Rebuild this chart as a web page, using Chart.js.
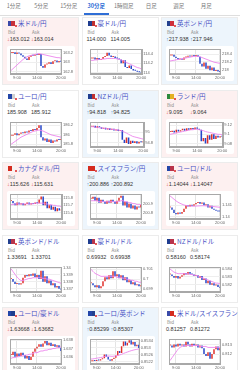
<!DOCTYPE html>
<html>
<head>
<meta charset="utf-8">
<script src="https://cdn.jsdelivr.net/npm/chart.js@4.4.1/dist/chart.umd.min.js"></script>
<style>
body{margin:0;width:240px;height:370px;overflow:hidden;background:#fff;position:relative;
  font-family:"Noto Sans CJK JP","Noto Sans",sans-serif}
.tabs{position:absolute;left:0;top:0;width:240px;height:15px;border-bottom:1px solid #dedede}
.tab{position:absolute;top:2px;width:27.5px;text-align:center;font-size:5.5px;color:#777;line-height:8px}
.tab.on{color:#2f6ed6;font-weight:bold}
.tab.on:after{content:'';position:absolute;left:1px;right:1px;top:11px;height:1.5px;background:#2f6ed6}
.card{position:absolute;width:77px;height:68px;box-sizing:border-box;border:1px solid #ececec}
.card.down{background:#fdf0f0}
.card.up{background:#edf5fc}
.card.flat{background:#fff}
.flag{position:absolute;left:5px;top:3px;width:7px;height:5px}
.flag:after{content:'';position:absolute;right:-2px;bottom:-1px;width:2px;height:2px;border-radius:1px;background:#d22}
.title{position:absolute;left:15px;top:0px;font-size:6.5px;line-height:10px;color:#4650c4;white-space:nowrap}
.lab{position:absolute;top:11px;font-size:4.5px;line-height:6px;color:#888}
.val{position:absolute;top:18px;font-size:5.5px;line-height:7px;color:#333;white-space:nowrap;font-family:"Liberation Sans",sans-serif}
.val b{font-weight:normal}
.val .dn{color:#e03a3a}
.val .up{color:#2f7fd0}
.box{position:absolute;left:4px;top:28px;width:68px;height:35px;background:#fff;border-radius:2px}
.box canvas{position:absolute;left:0;top:0}
</style>
</head>
<body>
<div class="tabs" id="tabs"></div>
<div id="grid"></div>
<script>
// tabs
const tabLabels = ['1分足', '5分足', '15分足', '30分足', '1時間足', '日足', '週足', '月足'];
const activeTab = 3;

// currency pairs, quotes, direction
const pairs = ['米ドル/円', '豪ドル/円', '英ポンド/円', 'ユーロ/円', 'NZドル/円', 'ランド/円',
  'カナダドル/円', 'スイスフラン/円', 'ユーロ/ドル', '英ポンド/ドル', '豪ドル/ドル', 'NZドル/ドル',
  'ユーロ/豪ドル', 'ユーロ/英ポンド', '米ドル/スイスフラン'];
const bids = ['163.012', '114.000', '217.938', '185.908', '94.818', '9.095',
  '115.626', '200.886', '1.14044', '1.33691', '0.69932', '0.58160',
  '1.63668', '0.85299', '0.81257'];
const asks = ['163.014', '114.005', '217.946', '185.912', '94.825', '9.064',
  '115.631', '200.892', '1.14047', '1.33701', '0.69938', '0.58174',
  '1.63682', '0.85307', '0.81272'];
const moves = ['down', 'flat', 'up', 'flat', 'up', 'down',
  'down', 'up', 'down', 'flat', 'flat', 'flat',
  'down', 'up', 'flat'];

// x axis: 30-minute bars
const times = ['7:30', '8:00', '8:30', '9:00', '9:30', '10:00', '10:30', '11:00', '11:30', '12:00',
  '12:30', '13:00', '13:30', '14:00', '14:30', '15:00', '15:30', '16:00', '16:30', '17:00',
  '17:30', '18:00', '18:30', '19:00', '19:30', '20:00'];
const timeTicks = ['9:00', '14:00', '20:00'];

// closing prices and moving averages
const usdJpy = [163.20,163.22,163.18,163.21,163.19,163.15,163.12,163.08,163.05,163.12,163.15,163.14,163.17,163.16,163.18,162.92,162.88,162.95,162.97,163.00,162.96,163.02,163.04,163.00,163.03,163.01];
const usdJpyMa = [162.82,162.86,162.90,162.94,162.98,163.02,163.06,163.09,163.12,163.14,163.15,163.16,163.17,163.18,163.19,163.18,163.17,163.16,163.15,163.14,163.13,163.12,163.11,163.10,163.10,163.09];
const audJpy = [114.30,114.32,114.28,114.31,114.27,114.29,114.33,114.35,114.42,114.36,114.33,114.34,114.31,114.30,114.28,114.20,114.26,114.12,114.10,114.15,114.08,114.05,114.04,114.02,114.01,114.00];
const audJpyMa = [114.26,114.26,114.27,114.27,114.28,114.28,114.29,114.29,114.30,114.30,114.30,114.30,114.30,114.29,114.28,114.27,114.25,114.23,114.21,114.19,114.17,114.15,114.13,114.11,114.10,114.08];
const gbpJpy = [218.36,218.38,218.33,218.30,218.26,218.27,218.25,218.31,218.33,218.35,218.34,218.36,218.35,218.37,218.33,218.15,218.08,218.18,218.02,218.10,217.98,218.05,217.96,217.99,217.95,217.94];
const gbpJpyMa = [218.22,218.23,218.24,218.25,218.26,218.27,218.28,218.29,218.30,218.31,218.32,218.33,218.34,218.34,218.34,218.33,218.31,218.29,218.27,218.25,218.23,218.21,218.19,218.18,218.17,218.16];
const eurJpy = [185.98,186.00,186.03,185.99,186.02,186.05,186.03,186.07,186.05,186.09,186.08,186.12,186.10,186.14,186.20,185.95,185.88,185.92,185.85,185.90,185.83,185.88,185.86,185.90,185.89,185.91];
const eurJpyMa = [185.80,185.83,185.86,185.89,185.92,185.95,185.97,185.99,186.01,186.03,186.05,186.07,186.08,186.09,186.10,186.09,186.08,186.06,186.04,186.02,186.00,185.99,185.98,185.97,185.96,185.95];
const nzdJpy = [95.10,95.12,95.08,95.11,95.09,95.06,95.08,95.05,95.07,95.04,95.06,95.03,95.05,95.02,95.04,94.86,94.80,94.90,94.78,94.84,94.80,94.83,94.79,94.82,94.81,94.82];
const nzdJpyMa = [95.10,95.10,95.09,95.09,95.08,95.08,95.07,95.07,95.06,95.06,95.05,95.05,95.04,95.04,95.03,95.02,95.00,94.98,94.96,94.94,94.92,94.91,94.90,94.89,94.88,94.87];
const zarJpy = [9.105,9.108,9.104,9.110,9.106,9.109,9.112,9.108,9.113,9.110,9.114,9.111,9.115,9.112,9.110,9.085,9.092,9.080,9.098,9.088,9.100,9.090,9.097,9.093,9.096,9.095];
const zarJpyMa = [9.100,9.101,9.102,9.103,9.104,9.105,9.106,9.107,9.108,9.109,9.110,9.110,9.111,9.111,9.110,9.109,9.108,9.106,9.105,9.104,9.103,9.102,9.101,9.100,9.100,9.099];
const cadJpy = [115.76,115.73,115.70,115.74,115.71,115.73,115.70,115.72,115.74,115.71,115.73,115.72,115.74,115.73,115.78,115.82,115.70,115.75,115.66,115.70,115.64,115.68,115.62,115.66,115.63,115.63];
const cadJpyMa = [115.71,115.71,115.72,115.72,115.72,115.72,115.72,115.72,115.72,115.72,115.72,115.72,115.73,115.73,115.73,115.73,115.73,115.72,115.72,115.71,115.71,115.70,115.70,115.69,115.69,115.68];
const chfJpy = [200.95,200.97,200.93,200.96,200.91,200.94,200.92,200.90,200.93,200.91,200.94,200.92,200.90,200.93,200.96,200.98,200.88,200.92,200.86,200.90,200.85,200.88,200.84,200.87,200.86,200.89];
const chfJpyMa = [200.93,200.93,200.93,200.93,200.92,200.92,200.92,200.92,200.92,200.92,200.92,200.92,200.92,200.92,200.92,200.93,200.93,200.92,200.92,200.91,200.91,200.90,200.90,200.89,200.89,200.89];
const eurUsd = [1.14080,1.14060,1.14030,1.14020,1.14035,1.14025,1.14040,1.14070,1.14100,1.14090,1.14105,1.14095,1.14110,1.14120,1.14130,1.14115,1.14125,1.14100,1.14110,1.14080,1.14095,1.14070,1.14060,1.14050,1.14045,1.14044];
const eurUsdMa = [1.14185,1.14170,1.14155,1.14140,1.14128,1.14118,1.14110,1.14103,1.14098,1.14095,1.14093,1.14092,1.14092,1.14093,1.14094,1.14095,1.14096,1.14096,1.14095,1.14094,1.14092,1.14090,1.14088,1.14086,1.14084,1.14082];
const gbpUsd = [1.3384,1.3380,1.3377,1.3378,1.3376,1.3378,1.3386,1.3390,1.3388,1.3391,1.3389,1.3392,1.3387,1.3390,1.3384,1.3396,1.3380,1.3388,1.3378,1.3382,1.3375,1.3378,1.3372,1.3374,1.3370,1.3369];
const gbpUsdMa = [1.3399,1.3395,1.3391,1.3387,1.3384,1.3382,1.3382,1.3383,1.3384,1.3385,1.3385,1.3386,1.3386,1.3386,1.3386,1.3386,1.3385,1.3385,1.3384,1.3384,1.3383,1.3382,1.3381,1.3380,1.3379,1.3378];
const audUsd = [0.6996,0.6994,0.6992,0.6994,0.6991,0.6993,0.6998,0.7002,0.7000,0.7004,0.7001,0.7008,0.7003,0.7005,0.7001,0.7004,0.6999,0.7002,0.6997,0.6999,0.6995,0.6997,0.6994,0.6995,0.6993,0.6993];
const audUsdMa = [0.7010,0.7008,0.7006,0.7005,0.7004,0.7003,0.7003,0.7003,0.7003,0.7003,0.7003,0.7003,0.7003,0.7002,0.7002,0.7002,0.7001,0.7001,0.7000,0.7000,0.6999,0.6999,0.6998,0.6998,0.6997,0.6997];
const nzdUsd = [0.5833,0.5831,0.5829,0.5831,0.5828,0.5830,0.5832,0.5835,0.5833,0.5836,0.5834,0.5833,0.5831,0.5832,0.5829,0.5831,0.5826,0.5828,0.5822,0.5825,0.5820,0.5822,0.5819,0.5820,0.5817,0.5816];
const nzdUsdMa = [0.5840,0.5838,0.5836,0.5835,0.5834,0.5834,0.5834,0.5834,0.5834,0.5834,0.5833,0.5833,0.5832,0.5832,0.5831,0.5830,0.5829,0.5828,0.5827,0.5826,0.5825,0.5824,0.5823,0.5822,0.5822,0.5821];
const eurAud = [1.6362,1.6366,1.6360,1.6364,1.6361,1.6365,1.6362,1.6358,1.6361,1.6356,1.6360,1.6366,1.6370,1.6372,1.6375,1.6372,1.6376,1.6379,1.6374,1.6377,1.6373,1.6375,1.6372,1.6374,1.6371,1.6367];
const eurAudMa = [1.6358,1.6359,1.6359,1.6360,1.6360,1.6361,1.6361,1.6362,1.6362,1.6363,1.6363,1.6364,1.6365,1.6365,1.6366,1.6367,1.6367,1.6368,1.6368,1.6369,1.6369,1.6370,1.6370,1.6371,1.6371,1.6372];
const eurGbp = [0.85222,0.85228,0.85224,0.85230,0.85226,0.85234,0.85240,0.85262,0.85248,0.85232,0.85225,0.85236,0.85242,0.85256,0.85282,0.85270,0.85310,0.85338,0.85315,0.85330,0.85345,0.85320,0.85335,0.85310,0.85318,0.85300];
const eurGbpMa = [0.85235,0.85236,0.85238,0.85240,0.85242,0.85244,0.85246,0.85250,0.85252,0.85253,0.85252,0.85251,0.85252,0.85254,0.85256,0.85259,0.85263,0.85268,0.85272,0.85276,0.85280,0.85284,0.85287,0.85290,0.85292,0.85294];
const usdChf = [0.8129,0.8127,0.8130,0.8128,0.8131,0.8129,0.8130,0.8128,0.8133,0.8130,0.8128,0.8131,0.8129,0.8130,0.8127,0.8129,0.8126,0.8120,0.8118,0.8122,0.8115,0.8120,0.8125,0.8128,0.8124,0.8126];
const usdChfMa = [0.8113,0.8116,0.8119,0.8122,0.8125,0.8127,0.8128,0.8129,0.8129,0.8129,0.8129,0.8129,0.8129,0.8129,0.8129,0.8128,0.8128,0.8128,0.8128,0.8127,0.8127,0.8127,0.8127,0.8127,0.8127,0.8127];

// y axis ranges and tick labels
const yMins = [162.74, 113.97, 217.88, 185.74, 94.72, 9.072, 115.51, 200.74, 1.13975, 1.3365, 0.6987, 0.58105, 1.6351, 0.85205, 0.81092];
const yMaxs = [163.28, 114.49, 218.52, 186.26, 95.18, 9.126, 115.85, 200.995, 1.14198, 1.3401, 0.7012, 0.5842, 1.6381, 0.8535, 0.81355];
const yTicks = [
  [162.8, 163, 163.2], [114, 114.2, 114.4], [218, 218.2, 218.4],
  [185.8, 186, 186.2], [94.8, 95], [9.08, 9.1, 9.12],
  [115.6, 115.7, 115.8], [200.8, 200.9], [1.14, 1.141],
  [1.337, 1.338, 1.339, 1.34], [0.699, 0.7, 0.701], [0.582, 0.583, 0.584],
  [1.636, 1.637, 1.638], [0.8522, 0.8526, 0.853, 0.8534], [0.812, 0.813]
];

const closes = [usdJpy, audJpy, gbpJpy, eurJpy, nzdJpy, zarJpy, cadJpy, chfJpy, eurUsd, gbpUsd, audUsd, nzdUsd, eurAud, eurGbp, usdChf];
const averages = [usdJpyMa, audJpyMa, gbpJpyMa, eurJpyMa, nzdJpyMa, zarJpyMa, cadJpyMa, chfJpyMa, eurUsdMa, gbpUsdMa, audUsdMa, nzdUsdMa, eurAudMa, eurGbpMa, usdChfMa];

const flags = [
  'linear-gradient(90deg,#3a4aa8 50%,#c8303a 50%)', 'linear-gradient(90deg,#1f3d8f 55%,#c03030 55%)',
  'linear-gradient(90deg,#23408e 50%,#cf2d3a 50%)', 'linear-gradient(90deg,#2346a8 55%,#d0d0d0 55%)',
  'linear-gradient(90deg,#1f3d8f 55%,#c03030 55%)', 'linear-gradient(90deg,#2d8a3c 50%,#e4b020 50%)',
  'linear-gradient(90deg,#d52b1e 55%,#f4f4f4 55%)', 'linear-gradient(90deg,#d52b1e 100%,#fff 0)',
  'linear-gradient(90deg,#2346a8 50%,#b8344a 50%)', 'linear-gradient(90deg,#23408e 50%,#b8344a 50%)',
  'linear-gradient(90deg,#1f3d8f 50%,#b8344a 50%)', 'linear-gradient(90deg,#1f3d8f 50%,#b8344a 50%)',
  'linear-gradient(90deg,#2346a8 50%,#1f3d8f 50%)', 'linear-gradient(90deg,#2346a8 50%,#23408e 50%)',
  'linear-gradient(90deg,#3a4aa8 50%,#d52b1e 50%)'
];

Chart.defaults.font.family = '"Liberation Sans", sans-serif';

const tabs = document.getElementById('tabs');
tabLabels.forEach((t, i) => {
  const d = document.createElement('div');
  d.className = 'tab' + (i === activeTab ? ' on' : '');
  d.style.left = (i * 27.5) + 'px';
  d.textContent = t;
  tabs.appendChild(d);
});

const colX = [2, 81.5, 161];
const rowY = [17, 89.5, 162, 234.5, 307];

const plotBorder = {
  id: 'plotBorder',
  afterDraw(chart) {
    const { ctx, chartArea: a } = chart;
    ctx.save();
    ctx.strokeStyle = '#a8a8a8';
    ctx.lineWidth = 1;
    ctx.strokeRect(Math.round(a.left) + 0.5, Math.round(a.top) + 0.5, Math.round(a.width) - 1, Math.round(a.height) - 1);
    ctx.restore();
  }
};

const arrow = m => m === 'down' ? '<span class="dn">↓</span>' : m === 'up' ? '<span class="up">↑</span>' : '';

const grid = document.getElementById('grid');
pairs.forEach((name, i) => {
  const card = document.createElement('div');
  card.className = 'card ' + moves[i];
  card.style.left = colX[i % 3] + 'px';
  card.style.top = rowY[Math.floor(i / 3)] + 'px';
  card.innerHTML =
    '<span class="flag" style="background:' + flags[i] + '"></span>' +
    '<div class="title">' + name + '</div>' +
    '<div class="lab" style="left:5px">Bid</div><div class="lab" style="left:29px">Ask</div>' +
    '<div class="val" style="left:4px">' + arrow(moves[i]) + bids[i] + '</div>' +
    '<div class="val" style="left:28px">' + arrow(moves[i]) + asks[i] + '</div>' +
    '<div class="box"><canvas width="68" height="35"></canvas></div>';
  grid.appendChild(card);

  const c = closes[i];
  const candles = c.map((v, k) => [k === 0 ? v : c[k - 1], v]);
  const colors = candles.map(b => b[1] >= b[0] ? '#e0312c' : '#2545c8');
  const ticks = yTicks[i];

  new Chart(card.querySelector('canvas'), {
    type: 'bar',
    data: {
      labels: times,
      datasets: [
        {
          type: 'line', data: averages[i], borderColor: '#ec84ec', borderWidth: 0.9,
          pointRadius: 0, tension: 0.3, order: 0
        },
        {
          data: candles, backgroundColor: colors, borderWidth: 0,
          barPercentage: 0.75, categoryPercentage: 1, minBarLength: 1, order: 1
        }
      ]
    },
    options: {
      responsive: false,
      animation: false,
      events: [],
      layout: { padding: { top: 2, left: 3, right: 1, bottom: 0 } },
      plugins: { legend: { display: false }, tooltip: { enabled: false } },
      scales: {
        x: {
          grid: {
            offset: false, drawTicks: false,
            color: ctx => timeTicks.includes(times[ctx.index]) ? '#e4e4e4' : 'rgba(0,0,0,0)'
          },
          border: { color: '#a8a8a8' },
          ticks: {
            autoSkip: false, maxRotation: 0, padding: 1, color: '#666', font: { size: 4 },
            callback: (v, k) => timeTicks.includes(times[k]) ? times[k] : ''
          }
        },
        y: {
          position: 'right',
          min: yMins[i], max: yMaxs[i],
          afterBuildTicks: axis => { axis.ticks = ticks.map(v => ({ value: v })); },
          grid: { drawTicks: false, color: '#eeeeee' },
          border: { color: '#a8a8a8' },
          ticks: {
            padding: 1, color: '#666', font: { size: 4 },
            callback: v => String(+(+v).toFixed(5))
          }
        }
      }
    },
    plugins: [plotBorder]
  });
});
</script>
</body>
</html>
